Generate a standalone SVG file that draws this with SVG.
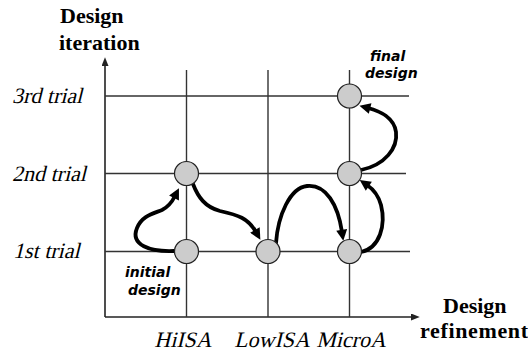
<svg xmlns="http://www.w3.org/2000/svg" width="528" height="353" viewBox="0 0 528 353">
  <style>
    .grid { stroke: #333; stroke-width: 1.4; fill: none; }
    .axis { stroke: #222; stroke-width: 1.6; fill: none; }
    .node circle { fill: #cccccc; stroke: #222; stroke-width: 1.2; }
    .flow { stroke: #000; stroke-width: 3.8; fill: none; stroke-linecap: round; }
    .title { font-family: "Liberation Serif", "Times New Roman", serif; font-weight: bold; font-size: 22px; fill: #000; }
    .tick { font-family: "Liberation Serif", "Times New Roman", serif; font-size: 22px; fill: #000; }
    .note { font-family: "DejaVu Sans", sans-serif; font-style: italic; font-weight: bold; font-size: 14px; fill: #000; }
  </style>
  <defs>
    <marker id="head" viewBox="0 0 10 10" refX="2" refY="5" markerWidth="12" markerHeight="11" markerUnits="userSpaceOnUse" orient="auto">
      <path d="M0,0 L10,5 L0,10 z" fill="#000"/>
    </marker>
    <marker id="axhead" viewBox="0 0 10 8" refX="0" refY="4" markerWidth="9" markerHeight="7" markerUnits="userSpaceOnUse" orient="auto">
      <path d="M0,0 L10,4 L0,8 z" fill="#222"/>
    </marker>
  </defs>

  <!-- axes -->
  <g id="axes">
    <line class="axis" x1="105" y1="317" x2="105" y2="66" marker-end="url(#axhead)"/>
    <line class="axis" x1="105" y1="317" x2="411" y2="317" marker-end="url(#axhead)"/>
    <text class="title" x="60" y="23">Design</text>
    <text class="title" x="59" y="50">iteration</text>
    <text class="title" x="443" y="313">Design</text>
    <text class="title" x="420" y="338" textLength="108">refinement</text>
  </g>

  <!-- grid; tick labels use slanted upright serif -->
  <g id="grid">
    <line class="grid" x1="105" y1="96" x2="409" y2="96"/>
    <line class="grid" x1="105" y1="173.5" x2="406" y2="173.5"/>
    <line class="grid" x1="105" y1="251.5" x2="410" y2="251.5"/>
    <line class="grid" x1="186.5" y1="70" x2="186.5" y2="317"/>
    <line class="grid" x1="268" y1="70" x2="268" y2="317"/>
    <line class="grid" x1="349.5" y1="70" x2="349.5" y2="317"/>
    <text class="tick" transform="translate(12,103) skewX(-14)">3rd trial</text>
    <text class="tick" transform="translate(12,181) skewX(-14)">2nd trial</text>
    <text class="tick" transform="translate(13,258) skewX(-14)">1st trial</text>
    <text class="tick" transform="translate(183,347) skewX(-14)" text-anchor="middle">HiISA</text>
    <text class="tick" transform="translate(272,347) skewX(-14)" text-anchor="middle">LowISA</text>
    <text class="tick" transform="translate(351,347) skewX(-14)" text-anchor="middle">MicroA</text>
  </g>

  <!-- connectors -->
  <g id="connectors">
    <path class="flow" d="M174,251 C150,252 130,245 137,228 C142,216 152,214 162,210 C170,206 173,200 175,196" marker-end="url(#head)"/>
    <path class="flow" d="M193,184 C198,197 205,207 220,211 C238,215 248,218 256,232" marker-end="url(#head)"/>
    <path class="flow" d="M276,243 C278,215 290,188 307,186 C326,184 338,205 342,232" marker-end="url(#head)"/>
    <path class="flow" d="M361,252 C380,248 386,225 381,205 C378,194 373,189 367,185" marker-end="url(#head)"/>
    <path class="flow" d="M361,170 C385,165 398,148 396,132 C394,118 380,111 368,108" marker-end="url(#head)"/>
  </g>

  <!-- design points -->
  <g id="hiisa-1" class="node"><circle cx="186.5" cy="251.5" r="12"/></g>
  <g id="hiisa-2" class="node"><circle cx="186.5" cy="173.5" r="12"/></g>
  <g id="lowisa-1" class="node"><circle cx="268" cy="251.5" r="12"/></g>
  <g id="microa-1" class="node"><circle cx="349.5" cy="251.5" r="12"/></g>
  <g id="microa-2" class="node"><circle cx="349.5" cy="173.5" r="12"/></g>
  <g id="microa-3" class="node"><circle cx="349.5" cy="96" r="12"/></g>

  <!-- annotations -->
  <g id="initial-note">
    <text class="note" x="125" y="277">initial</text>
    <text class="note" x="128" y="295">design</text>
  </g>
  <g id="final-note">
    <text class="note" x="370" y="61">final</text>
    <text class="note" x="365" y="78">design</text>
  </g>
</svg>
